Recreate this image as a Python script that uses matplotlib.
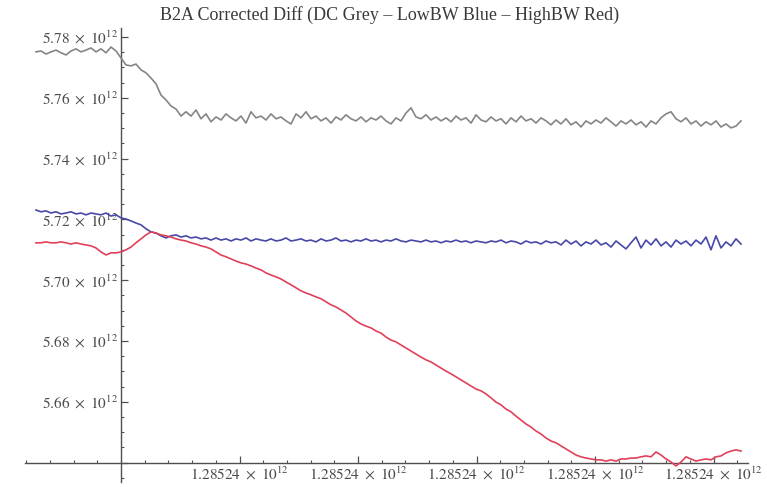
import numpy as np
import matplotlib
matplotlib.use("Agg")
import matplotlib.pyplot as plt

plt.rcParams['font.family'] = ['Liberation Serif', 'DejaVu Serif']
plt.rcParams['mathtext.fontset'] = 'stix'

title = "B2A Corrected Diff (DC Grey \u2013 LowBW Blue \u2013 HighBW Red)"

# sample times (arbitrary offset units, y-axis crosses at t = 0)
t_start, t_step = -85, 5

grey_dc = [5.7751, 5.7754, 5.7744, 5.7751, 5.7757, 5.7748, 5.7741, 5.7754, 5.7761, 5.7751,
           5.7757, 5.7764, 5.7751, 5.7761, 5.7748, 5.7767, 5.7754, 5.7731, 5.7708, 5.7705,
           5.7711, 5.7692, 5.7682, 5.7665, 5.7646, 5.7609, 5.7593, 5.7573, 5.7563, 5.7540,
           5.7554, 5.7540, 5.7560, 5.7531, 5.7547, 5.7521, 5.7537, 5.7527, 5.7547, 5.7534,
           5.7524, 5.7540, 5.7517, 5.7554, 5.7534, 5.7540, 5.7527, 5.7547, 5.7531, 5.7537,
           5.7524, 5.7514, 5.7547, 5.7534, 5.7554, 5.7531, 5.7540, 5.7524, 5.7534, 5.7517,
           5.7537, 5.7527, 5.7544, 5.7531, 5.7524, 5.7537, 5.7521, 5.7534, 5.7527, 5.7540,
           5.7524, 5.7514, 5.7534, 5.7524, 5.7550, 5.7567, 5.7537, 5.7531, 5.7544, 5.7527,
           5.7537, 5.7524, 5.7534, 5.7521, 5.7540, 5.7527, 5.7534, 5.7517, 5.7544, 5.7527,
           5.7521, 5.7537, 5.7524, 5.7531, 5.7514, 5.7534, 5.7521, 5.7540, 5.7524, 5.7531,
           5.7517, 5.7534, 5.7524, 5.7511, 5.7527, 5.7514, 5.7531, 5.7511, 5.7521, 5.7504,
           5.7524, 5.7514, 5.7527, 5.7517, 5.7534, 5.7521, 5.7507, 5.7524, 5.7514, 5.7527,
           5.7511, 5.7521, 5.7504, 5.7524, 5.7514, 5.7534, 5.7547, 5.7554, 5.7531, 5.7521,
           5.7534, 5.7514, 5.7524, 5.7507, 5.7521, 5.7511, 5.7524, 5.7504, 5.7514, 5.7501,
           5.7507, 5.7524]

blue_low = [5.7231, 5.7225, 5.7228, 5.7221, 5.7225, 5.7218, 5.7221, 5.7225, 5.7218, 5.7221,
            5.7215, 5.7221, 5.7218, 5.7215, 5.7221, 5.7211, 5.7215, 5.7205, 5.7201, 5.7195,
            5.7188, 5.7182, 5.7169, 5.7159, 5.7155, 5.7146, 5.7139, 5.7146, 5.7149, 5.7142,
            5.7146, 5.7139, 5.7142, 5.7136, 5.7139, 5.7132, 5.7139, 5.7132, 5.7136, 5.7129,
            5.7136, 5.7132, 5.7139, 5.7129, 5.7136, 5.7132, 5.7129, 5.7136, 5.7129, 5.7132,
            5.7139, 5.7129, 5.7132, 5.7136, 5.7129, 5.7132, 5.7126, 5.7136, 5.7129, 5.7132,
            5.7139, 5.7129, 5.7132, 5.7126, 5.7132, 5.7129, 5.7136, 5.7129, 5.7132, 5.7126,
            5.7132, 5.7129, 5.7136, 5.7129, 5.7126, 5.7132, 5.7129, 5.7126, 5.7132, 5.7126,
            5.7129, 5.7123, 5.7129, 5.7126, 5.7132, 5.7126, 5.7129, 5.7123, 5.7129, 5.7126,
            5.7123, 5.7129, 5.7126, 5.7132, 5.7123, 5.7129, 5.7126, 5.7119, 5.7129, 5.7123,
            5.7126, 5.7119, 5.7129, 5.7123, 5.7126, 5.7116, 5.7132, 5.7119, 5.7129, 5.7113,
            5.7126, 5.7119, 5.7132, 5.7116, 5.7123, 5.7109, 5.7129, 5.7116, 5.7103, 5.7123,
            5.7142, 5.7106, 5.7132, 5.7116, 5.7136, 5.7113, 5.7126, 5.7109, 5.7132, 5.7119,
            5.7129, 5.7113, 5.7132, 5.7119, 5.7142, 5.7100, 5.7146, 5.7106, 5.7126, 5.7113,
            5.7136, 5.7119]

red_high = [5.7123, 5.7123, 5.7126, 5.7123, 5.7123, 5.7126, 5.7123, 5.7119, 5.7123, 5.7119,
            5.7116, 5.7113, 5.7106, 5.7093, 5.7083, 5.7090, 5.7090, 5.7093, 5.7100, 5.7109,
            5.7123, 5.7136, 5.7149, 5.7159, 5.7155, 5.7149, 5.7146, 5.7142, 5.7136, 5.7132,
            5.7129, 5.7123, 5.7119, 5.7113, 5.7109, 5.7103, 5.7093, 5.7083, 5.7077, 5.7070,
            5.7063, 5.7057, 5.7053, 5.7047, 5.7040, 5.7034, 5.7024, 5.7017, 5.7011, 5.7004,
            5.6994, 5.6985, 5.6975, 5.6965, 5.6958, 5.6952, 5.6945, 5.6939, 5.6929, 5.6919,
            5.6912, 5.6902, 5.6892, 5.6879, 5.6866, 5.6856, 5.6849, 5.6843, 5.6833, 5.6826,
            5.6813, 5.6803, 5.6797, 5.6787, 5.6777, 5.6767, 5.6757, 5.6747, 5.6738, 5.6731,
            5.6721, 5.6711, 5.6701, 5.6692, 5.6682, 5.6672, 5.6662, 5.6652, 5.6642, 5.6636,
            5.6626, 5.6613, 5.6599, 5.6590, 5.6576, 5.6567, 5.6553, 5.6540, 5.6527, 5.6517,
            5.6504, 5.6494, 5.6481, 5.6471, 5.6465, 5.6455, 5.6445, 5.6435, 5.6425, 5.6419,
            5.6415, 5.6412, 5.6409, 5.6409, 5.6405, 5.6409, 5.6405, 5.6412, 5.6412, 5.6415,
            5.6415, 5.6419, 5.6422, 5.6419, 5.6435, 5.6425, 5.6412, 5.6402, 5.6389, 5.6402,
            5.6419, 5.6412, 5.6405, 5.6409, 5.6412, 5.6409, 5.6419, 5.6422, 5.6432, 5.6438,
            5.6442, 5.6438]

y_major = [5.64, 5.66, 5.68, 5.70, 5.72, 5.74, 5.76, 5.78]
y_labels = ["", "5.66", "5.68", "5.70", "5.72", "5.74", "5.76", "5.78"]
x_major = [118.5, 237.0, 355.5, 474.0, 592.5]
x_label = "1.28524"

t = t_start + t_step * np.arange(len(grey_dc))

fig = plt.figure(figsize=(7.67, 4.87), dpi=100)
ax = fig.add_axes([25 / 767, 5 / 487, 723 / 767, 454 / 487])
ax.set_xlim(-96, 627)
ax.set_ylim(5.63362, 5.78296)

ax.plot(t, grey_dc, color='#858585', lw=1.2, zorder=3)
ax.plot(t, blue_low, color='#4848a8', lw=1.2, zorder=3)
ax.plot(t, red_high, color='#e0405a', lw=1.2, zorder=3)

axis_col = '#505050'
for s in ['top', 'right']:
    ax.spines[s].set_visible(False)
ax.spines['left'].set_position(('data', 0))
ax.spines['bottom'].set_position(('data', 5.64))
for s in ['left', 'bottom']:
    ax.spines[s].set_color(axis_col)
    ax.spines[s].set_linewidth(1.0)

def fmt(m):
    return r'$%s\ \times\ 10^{12}$' % m

ax.set_yticks(y_major)
ax.set_yticklabels([fmt(l) if l else '' for l in y_labels])
ax.set_yticks(np.arange(5.635, 5.7801, 0.005), minor=True)
ax.set_xticks(x_major)
ax.set_xticklabels([fmt(x_label)] * len(x_major))
ax.set_xticks(np.arange(-4, 27) * 23.7, minor=True)

ax.tick_params(axis='both', which='major', direction='in', length=5, width=0.9,
               color=axis_col, labelcolor='#4a4a4a', labelsize=11)
ax.tick_params(axis='both', which='minor', direction='in', length=2.5, width=0.8,
               color=axis_col)
ax.tick_params(axis='y', which='major', pad=2)
ax.tick_params(axis='x', which='major', pad=2)

fig.text(390 / 767, 1 - 15 / 487, title, ha='center', va='center',
         fontsize=13, color='#3a3a3a')

fig.savefig('out.png', dpi=100, facecolor='white')
